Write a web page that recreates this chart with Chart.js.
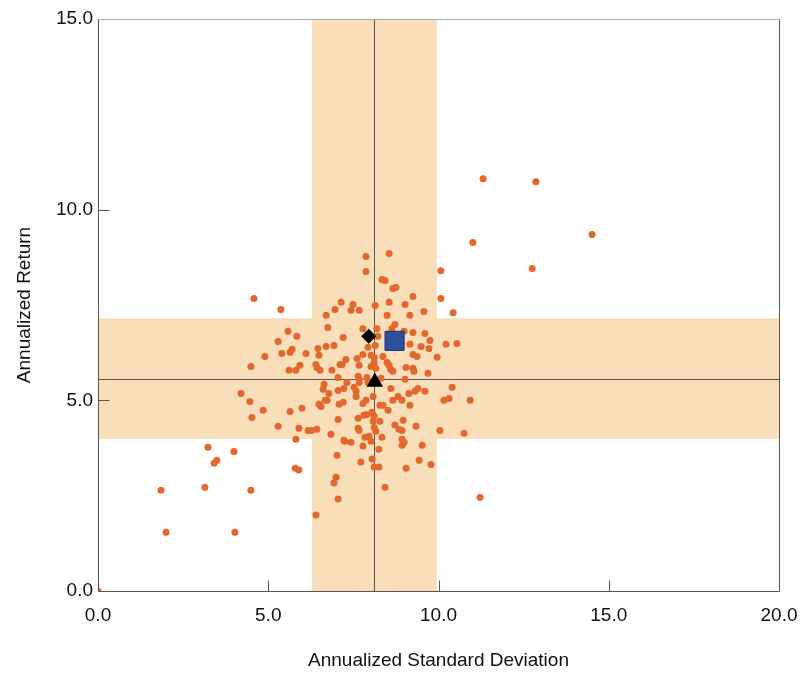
<!DOCTYPE html>
<html>
<head>
<meta charset="utf-8">
<script src="https://cdn.jsdelivr.net/npm/chart.js@4.4.0/dist/chart.umd.min.js"></script>
<style>
  html, body { margin: 0; padding: 0; background: #fff; }
  #wrap { width: 802px; height: 675px; }
</style>
</head>
<body>
<div id="wrap"><canvas id="riskReturn" width="802" height="675"></canvas></div>
<script>
// Manager universe: annualized standard deviation (x) and return (y)
const fundRisk = [
    4.58, 5.37, 7.14, 7.49, 7.43, 7.67, 6.96, 6.70, 6.75, 5.58,
    5.84, 5.29, 7.20, 5.70, 6.46, 6.70, 6.93, 7.87, 8.55, 11.01,
    7.87, 10.07, 8.34, 8.43, 8.66, 8.75, 9.25, 10.07, 10.43, 8.14,
    8.55, 9.02, 9.57, 8.49, 9.16, 8.72, 7.78, 8.19, 8.63, 8.99,
    9.25, 9.60, 9.75, 10.22, 10.54, 9.16, 9.49, 9.72, 8.22, 8.14,
    7.93, 4.90, 5.40, 5.64, 6.11, 6.49, 4.49, 5.93, 5.61, 5.81,
    6.40, 6.43, 6.52, 6.87, 7.11, 7.17, 7.28, 7.61, 7.67, 7.05,
    7.64, 7.67, 7.31, 7.22, 7.05, 6.64, 6.61, 6.78, 7.52, 7.58,
    7.58, 4.20, 4.46, 6.73, 6.67, 7.20, 7.08, 6.49, 6.55, 4.85,
    5.64, 5.99, 4.52, 7.05, 7.64, 5.29, 5.90, 6.17, 6.28, 6.43,
    6.84, 7.22, 7.64, 5.81, 7.78, 8.02, 8.11, 8.37, 9.25, 9.37,
    9.96, 8.11, 8.49, 8.02, 8.16, 8.55, 8.60, 8.66, 9.05, 9.25,
    9.28, 9.69, 7.67, 7.90, 7.93, 8.31, 9.02, 8.60, 9.40, 9.31,
    9.13, 9.60, 10.40, 8.08, 8.81, 8.93, 8.66, 10.16, 10.31, 10.93,
    7.87, 7.78, 8.28, 8.37, 9.16, 8.52, 8.05, 7.90, 7.81, 8.11,
    8.08, 8.28, 8.96, 8.11, 8.72, 8.84, 8.93, 9.34, 10.04, 10.75,
    8.16, 8.34, 7.84, 8.93, 7.43, 7.67, 7.96, 8.02, 7.78, 8.25,
    8.99, 8.93, 9.52, 7.72, 8.05, 8.11, 8.25, 9.43, 9.78, 9.05,
    8.43, 11.22, 7.25, 3.99, 7.02, 5.79, 5.90, 6.99, 6.93, 4.49,
    7.05, 6.40, 3.23, 3.49, 3.41, 1.85, 3.14, 2.00, 4.02, 11.31,
    12.86, 14.51, 12.75, 0.00
];
const fundReturn = [
    7.67, 7.38, 7.57, 7.51, 7.36, 7.36, 7.38, 7.23, 6.91, 6.81,
    6.68, 6.54, 6.65, 6.34, 6.36, 6.41, 6.44, 8.77, 8.85, 9.14,
    8.38, 8.40, 8.17, 8.14, 7.93, 7.96, 7.72, 7.67, 7.30, 7.49,
    7.57, 7.51, 7.33, 7.23, 7.23, 6.99, 6.88, 6.88, 6.88, 6.81,
    6.78, 6.75, 6.57, 6.47, 6.49, 6.47, 6.41, 6.36, 6.68, 6.44,
    6.39, 6.15, 6.23, 6.26, 6.23, 6.18, 5.89, 5.92, 5.79, 5.79,
    5.94, 5.86, 5.79, 5.79, 5.94, 5.94, 6.07, 6.10, 5.92, 5.60,
    5.63, 5.47, 5.47, 5.31, 5.26, 5.42, 5.29, 5.18, 5.34, 5.24,
    5.10, 5.18, 4.97, 5.00, 5.00, 4.95, 4.90, 4.90, 4.84, 4.74,
    4.71, 4.79, 4.55, 4.50, 4.53, 4.32, 4.27, 4.21, 4.21, 4.24,
    4.11, 3.95, 4.27, 3.98, 6.20, 6.18, 6.13, 6.15, 6.20, 6.15,
    6.13, 5.99, 5.99, 5.89, 5.84, 5.92, 5.81, 5.76, 5.86, 5.84,
    5.76, 5.71, 5.55, 5.60, 5.47, 5.58, 5.55, 5.31, 5.31, 5.24,
    5.18, 5.24, 5.34, 5.10, 5.10, 5.00, 5.00, 5.00, 5.05, 5.00,
    5.00, 4.92, 4.87, 4.87, 4.87, 4.74, 4.69, 4.63, 4.61, 4.58,
    4.45, 4.45, 4.48, 4.29, 4.35, 4.24, 4.21, 4.32, 4.21, 4.14,
    4.19, 4.03, 4.03, 3.98, 3.90, 4.21, 4.06, 3.93, 3.80, 3.72,
    3.90, 3.82, 3.82, 3.38, 3.46, 3.25, 3.25, 3.43, 3.32, 3.22,
    2.72, 2.46, 3.93, 3.66, 3.56, 3.22, 3.17, 2.98, 2.83, 2.64,
    2.41, 1.99, 3.77, 3.43, 3.35, 2.64, 2.72, 1.54, 1.54, 10.81,
    10.73, 9.35, 8.46, 0.00
];

// Highlighted portfolios [risk, return]
const squarePoint = [8.71, 6.56];
const diamondPoint = [7.95, 6.68];
const trianglePoint = [8.13, 5.48];

// Shaded ranges and median lines
const riskBand = [6.28, 9.95];
const returnBand = [3.99, 7.15];
const medianRisk = 8.11;
const medianReturn = 5.57;

const X_MAX = 20;
const Y_MAX = 15;
const TICK_STEP = 5;

const FONT = "'Liberation Sans', Arial, sans-serif";
const BAND_COLOR = "#F8DEB9";
const DOT_COLOR = "#E2682D";

const fundPoints = fundRisk.map((r, i) => ({ x: r, y: fundReturn[i] }));

// Draws bands, median lines, frame and inward tick marks
const backdrop = {
    id: "backdrop",
    beforeDatasetsDraw(chart) {
        const { ctx, chartArea: a, scales: { x, y } } = chart;
        ctx.save();
        ctx.fillStyle = BAND_COLOR;
        const bx0 = x.getPixelForValue(riskBand[0]);
        const bx1 = x.getPixelForValue(riskBand[1]);
        const by0 = y.getPixelForValue(returnBand[1]);
        const by1 = y.getPixelForValue(returnBand[0]);
        ctx.fillRect(bx0, a.top, bx1 - bx0, a.bottom - a.top);
        ctx.fillRect(a.left, by0, a.right - a.left, by1 - by0);

        ctx.strokeStyle = "#555";
        ctx.lineWidth = 1;
        const mx = Math.round(x.getPixelForValue(medianRisk)) + 0.5;
        const my = Math.round(y.getPixelForValue(medianReturn)) + 0.5;
        ctx.beginPath();
        ctx.moveTo(mx, a.top);
        ctx.lineTo(mx, a.bottom);
        ctx.moveTo(a.left, my);
        ctx.lineTo(a.right, my);
        ctx.stroke();
        ctx.restore();
    },
    afterDraw(chart) {
        const { ctx, chartArea: a, scales: { x, y } } = chart;
        const L = Math.round(a.left) + 0.5, R = Math.round(a.right) + 0.5;
        const T = Math.round(a.top) + 0.5, B = Math.round(a.bottom) + 0.5;
        ctx.save();
        ctx.lineWidth = 1;
        ctx.strokeStyle = "#aaa";
        ctx.beginPath();
        ctx.moveTo(L, T);
        ctx.lineTo(R, T);
        ctx.stroke();
        ctx.strokeStyle = "#555";
        ctx.beginPath();
        ctx.moveTo(R, T);
        ctx.lineTo(R, B);
        ctx.lineTo(L, B);
        ctx.lineTo(L, T);
        // inward ticks
        x.ticks.forEach((t) => {
            if (t.value <= 0 || t.value >= X_MAX) return;
            const px = Math.round(x.getPixelForValue(t.value)) + 0.5;
            ctx.moveTo(px, B);
            ctx.lineTo(px, B - 11);
        });
        y.ticks.forEach((t) => {
            if (t.value <= 0 || t.value >= Y_MAX) return;
            const py = Math.round(y.getPixelForValue(t.value)) + 0.5;
            ctx.moveTo(L, py);
            ctx.lineTo(L + 11, py);
        });
        ctx.stroke();
        ctx.restore();
    }
};

new Chart(document.getElementById("riskReturn"), {
    type: "scatter",
    data: {
        datasets: [
            {
                label: "Universe",
                data: fundPoints,
                backgroundColor: DOT_COLOR,
                borderWidth: 0,
                pointRadius: 3.5,
                order: 4
            },
            {
                label: "Square",
                data: [{ x: squarePoint[0], y: squarePoint[1] }],
                pointStyle: "rect",
                pointRadius: 13.5,
                backgroundColor: "#2D4E9C",
                borderColor: "#1B2F66",
                borderWidth: 1,
                order: 1
            },
            {
                label: "Diamond",
                data: [{ x: diamondPoint[0], y: diamondPoint[1] }],
                pointStyle: "rectRot",
                pointRadius: 7.5,
                backgroundColor: "#000",
                borderWidth: 0,
                order: 2
            },
            {
                label: "Triangle",
                data: [{ x: trianglePoint[0], y: trianglePoint[1] }],
                pointStyle: "triangle",
                pointRadius: 9.5,
                backgroundColor: "#000",
                borderWidth: 0,
                order: 3
            }
        ]
    },
    options: {
        responsive: false,
        animation: false,
        devicePixelRatio: 1,
        layout: { padding: { top: 19, right: 23, left: 0, bottom: 0 } },
        plugins: {
            legend: { display: false },
            tooltip: { enabled: false }
        },
        scales: {
            x: {
                type: "linear",
                min: 0,
                max: X_MAX,
                grid: { display: false, drawTicks: false },
                border: { display: false },
                ticks: {
                    stepSize: TICK_STEP,
                    padding: 13,
                    color: "#111",
                    font: { family: FONT, size: 19 },
                    callback: (v) => v.toFixed(1)
                },
                title: {
                    display: true,
                    text: "Annualized Standard Deviation",
                    color: "#111",
                    font: { family: FONT, size: 19 },
                    padding: { top: 0, bottom: 3 }
                },
                afterFit: (s) => {
                    s.height = 84;
                    s.paddingLeft = 0;
                    s.paddingRight = 0;
                }
            },
            y: {
                type: "linear",
                min: 0,
                max: Y_MAX,
                grid: { display: false, drawTicks: false },
                border: { display: false },
                ticks: {
                    stepSize: TICK_STEP,
                    padding: 5,
                    color: "#111",
                    font: { family: FONT, size: 19 },
                    callback: (v) => v.toFixed(1)
                },
                title: {
                    display: true,
                    text: "Annualized Return",
                    color: "#111",
                    font: { family: FONT, size: 19 },
                    padding: { top: 13, bottom: 0 }
                },
                afterFit: (s) => {
                    s.width = 98;
                    s.paddingTop = 0;
                    s.paddingBottom = 0;
                }
            }
        }
    },
    plugins: [backdrop]
});
</script>
</body>
</html>
